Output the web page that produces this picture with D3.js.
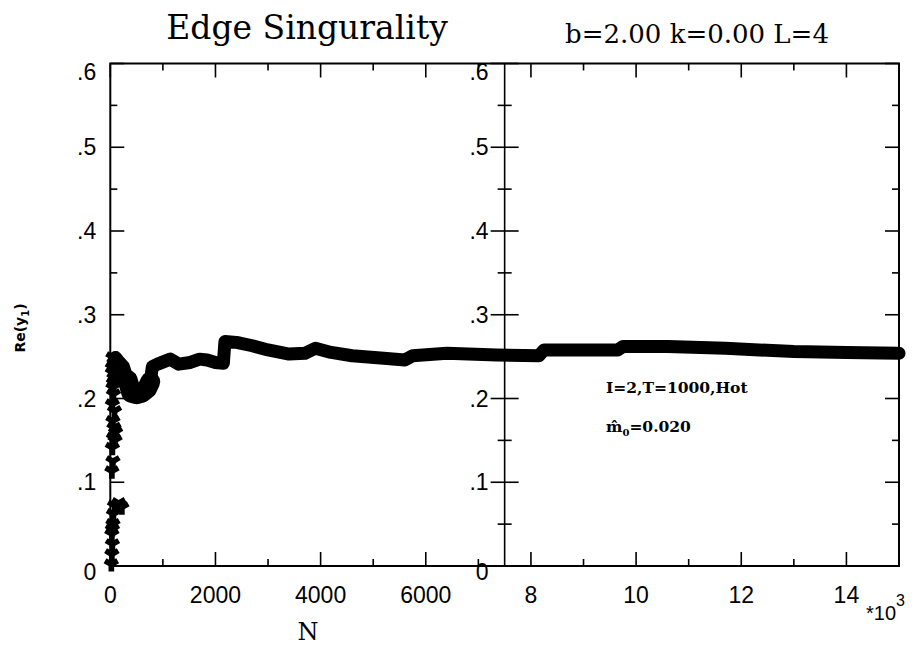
<!DOCTYPE html>
<html>
<head>
<meta charset="utf-8">
<script src="https://cdn.jsdelivr.net/npm/d3@7"></script>
<style>
  html, body { margin: 0; padding: 0; background: #fff; }
  svg { display: block; }
</style>
</head>
<body>
<svg id="chart" width="920" height="647"></svg>
<script>
// ---- data ----
// early scattered measurements near N = 0
const stackN = [20, 30, 40, 30, 50, 40, 60, 80, 160, 220, 30, 50, 40, 60, 90, 100, 70, 50, 80, 40, 60, 50, 70, 40, 50, 60, 40, 70];
const stackV = [0.002, 0.014, 0.026, 0.038, 0.050, 0.044, 0.062, 0.072, 0.075, 0.070, 0.113, 0.125, 0.141, 0.153, 0.150, 0.160, 0.165, 0.173, 0.185, 0.193, 0.205, 0.213, 0.225, 0.237, 0.249, 0.219, 0.231, 0.243];
// running estimate of Re(y1) vs N
const traceN = [100, 150, 250, 330, 400, 500, 600, 700, 760, 800, 900, 1140, 1300, 1520, 1700, 1840, 2000, 2150, 2180, 2400, 2700, 3000, 3400, 3700, 3900, 4200, 4600, 5200, 5600, 5750, 6400, 7350, 8150, 8250, 8800, 9650, 9750, 10600, 11700, 13000, 14000, 15000];
const traceV = [0.249, 0.245, 0.238, 0.222, 0.207, 0.205, 0.207, 0.212, 0.220, 0.238, 0.241, 0.247, 0.241, 0.243, 0.247, 0.246, 0.243, 0.242, 0.268, 0.267, 0.263, 0.258, 0.253, 0.254, 0.260, 0.255, 0.251, 0.248, 0.246, 0.251, 0.254, 0.252, 0.251, 0.258, 0.258, 0.258, 0.262, 0.262, 0.260, 0.256, 0.255, 0.254];

// ticks and labels
const xMajor = [0, 2000, 4000, 6000, 8000, 10000, 12000, 14000];
const xMinor = [1000, 3000, 5000, 7000, 9000, 11000, 13000];
const xLabelVals = [0, 2000, 4000, 6000, 8000, 10000, 12000, 14000];
const xLabelText = ["0", "2000", "4000", "6000", "8", "10", "12", "14"];
const yMajor = [0, 0.1, 0.2, 0.3, 0.4, 0.5, 0.6];
const yMinor = [0.05, 0.15, 0.25, 0.35, 0.45, 0.55];
const yLabelText = ["0", ".1", ".2", ".3", ".4", ".5", ".6"];
const splitN = 7500;

// ---- scales ----
const x = d3.scaleLinear().domain([0, 15000]).range([110.3, 899]);
const y = d3.scaleLinear().domain([0, 0.6]).range([566, 63.5]);

const svg = d3.select("#chart");
const tickFont = "'Liberation Sans', Arial, sans-serif";
const serif = "'DejaVu Serif', serif";

// ---- data marks ----
const tracePts = traceN.map((n, i) => [n, traceV[i]]);
const line = d3.line().x(d => x(d[0])).y(d => y(d[1]));
svg.append("path")
  .datum(tracePts)
  .attr("fill", "none")
  .attr("stroke", "#000")
  .attr("stroke-width", 13)
  .attr("stroke-linejoin", "round")
  .attr("stroke-linecap", "round")
  .attr("d", line);
// early, noisier part of the estimate is drawn with a heavier band
svg.append("path")
  .datum(tracePts.filter(d => d[0] >= 300 && d[0] <= 760))
  .attr("fill", "none")
  .attr("stroke", "#000")
  .attr("stroke-width", 20)
  .attr("stroke-linejoin", "round")
  .attr("stroke-linecap", "round")
  .attr("d", line);

const stackPts = stackN.map((n, i) => [n, stackV[i]]);
svg.append("g").selectAll("path")
  .data(stackPts)
  .join("path")
  .attr("transform", d => `translate(${x(d[0])},${y(d[1])})`)
  .attr("d", d3.symbol().type(d3.symbolWye).size(110))
  .attr("fill", "#000");

// ---- frame ----
const x0 = x(0), x1 = x(15000), xs = x(splitN), yb = y(0), yt = y(0.6);
const frame = svg.append("g").attr("stroke", "#000").attr("fill", "none");
frame.append("rect").attr("x", x0).attr("y", yt).attr("width", x1 - x0).attr("height", yb - yt).attr("stroke-width", 2);
frame.append("line").attr("x1", xs).attr("x2", xs).attr("y1", yt).attr("y2", yb).attr("stroke-width", 1.6);

// ---- ticks ----
const tk = svg.append("g").attr("stroke", "#000").attr("stroke-width", 1.6);
function xt(vals, len) {
  tk.selectAll(null).data(vals).join("line")
    .attr("x1", d => x(d)).attr("x2", d => x(d)).attr("y1", yb).attr("y2", yb - len);
  tk.selectAll(null).data(vals).join("line")
    .attr("x1", d => x(d)).attr("x2", d => x(d)).attr("y1", yt).attr("y2", yt + len);
}
xt(xMajor, 14);
xt(xMinor, 7);
function yt_(vals, len) {
  tk.selectAll(null).data(vals).join("line")
    .attr("x1", x0).attr("x2", x0 + len).attr("y1", d => y(d)).attr("y2", d => y(d));
  tk.selectAll(null).data(vals).join("line")
    .attr("x1", x1).attr("x2", x1 - len).attr("y1", d => y(d)).attr("y2", d => y(d));
  tk.selectAll(null).data(vals).join("line")
    .attr("x1", xs - len).attr("x2", xs + len).attr("y1", d => y(d)).attr("y2", d => y(d));
}
yt_(yMajor, 14);
yt_(yMinor, 7);

// ---- tick labels ----
const lab = svg.append("g").attr("font-family", tickFont).attr("font-size", 23).attr("fill", "#000");
lab.selectAll(null).data(xLabelVals).join("text")
  .attr("x", d => x(d)).attr("y", 603).attr("text-anchor", "middle")
  .text((d, i) => xLabelText[i]);
function yOff(v) { return v === 0.6 ? 16 : (v === 0 ? 14 : 8); }
lab.selectAll(null).data(yMajor).join("text")
  .attr("x", x0 - 14).attr("y", d => y(d) + yOff(d)).attr("text-anchor", "end")
  .text((d, i) => yLabelText[i]);
lab.selectAll(null).data(yMajor).join("text")
  .attr("x", xs - 16).attr("y", d => y(d) + yOff(d)).attr("text-anchor", "end")
  .text((d, i) => yLabelText[i]);

// multiplier *10^3
const mult = svg.append("text").attr("x", 866).attr("y", 620)
  .attr("font-family", tickFont).attr("font-size", 20);
mult.append("tspan").text("*10");
mult.append("tspan").attr("dy", -14).attr("font-size", 16).text("3");

// ---- titles ----
svg.append("text").attr("x", 307).attr("y", 39).attr("text-anchor", "middle")
  .attr("font-family", serif).attr("font-size", 33).text("Edge Singurality");
svg.append("text").attr("x", 697).attr("y", 43).attr("text-anchor", "middle")
  .attr("font-family", serif).attr("font-size", 26).text("b=2.00 k=0.00 L=4");

svg.append("text").attr("x", 308).attr("y", 640).attr("text-anchor", "middle")
  .attr("font-family", serif).attr("font-size", 24).text("N");

const yl = svg.append("text").attr("transform", "translate(25,328) rotate(-90)")
  .attr("text-anchor", "middle").attr("font-family", "'DejaVu Sans', sans-serif").attr("font-weight", "bold").attr("font-size", 14);
yl.append("tspan").text("Re(y");
yl.append("tspan").attr("dy", 4).attr("font-size", 10).text("1");
yl.append("tspan").attr("dy", -4).text(")");

// ---- annotation ----
svg.append("text").attr("x", 606).attr("y", 393)
  .attr("font-family", serif).attr("font-weight", "bold").attr("font-size", 15.5).text("I=2,T=1000,Hot");
const ann = svg.append("text").attr("x", 606).attr("y", 432)
  .attr("font-family", serif).attr("font-weight", "bold").attr("font-size", 15.5);
ann.append("tspan").text("m\u0302");
ann.append("tspan").attr("dy", 4).attr("font-size", 10).text("0");
ann.append("tspan").attr("dy", -4).text("=0.020");
</script>
</body>
</html>
